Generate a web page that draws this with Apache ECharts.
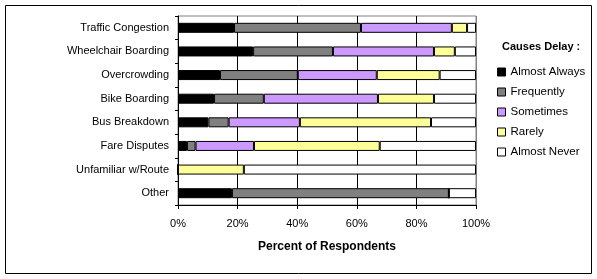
<!DOCTYPE html>
<html>
<head>
<meta charset="utf-8">
<script src="https://cdn.jsdelivr.net/npm/echarts@6/dist/echarts.min.js"></script>
<style>
  html, body { margin: 0; padding: 0; background: #fff; }
  #delay_chart { width: 597px; height: 279px; }
</style>
</head>
<body>
<div id="delay_chart"></div>
<script>
// 延误原因统计 (stacked percent bars)
var causeNames = ['Traffic Congestion', 'Wheelchair Boarding', 'Overcrowding', 'Bike Boarding', 'Bus Breakdown', 'Fare Disputes', 'Unfamiliar w/Route', 'Other']
var almostAlways = [18.8, 25.2, 14.1, 12.1, 10.2, 3.0, 0, 18.1]
var frequently = [42.6, 26.8, 26.1, 16.7, 6.8, 2.9, 0, 72.8]
var sometimes = [30.5, 33.9, 26.5, 38.3, 23.9, 19.6, 0, 0]
var rarely = [5.1, 7.0, 21.1, 18.8, 44.0, 42.2, 22.1, 0]
var almostNever = [3.0, 7.1, 12.2, 14.1, 15.1, 32.3, 77.9, 9.1]
var seriesNames = ['Almost Always', 'Frequently', 'Sometimes', 'Rarely', 'Almost Never']
var seriesColors = ['#000000', '#808080', '#cc99ff', '#ffff99', '#ffffff']
var seriesData = [almostAlways, frequently, sometimes, rarely, almostNever]

var font = 'Arial, "Liberation Sans", sans-serif'
var delay_chart = echarts.init(document.getElementById('delay_chart'))

var series = []
for (let i = 0; i < seriesNames.length; i++) {
  series.push({
    name: seriesNames[i],
    type: 'bar',
    stack: 'total',
    barWidth: 10,
    data: seriesData[i],
    itemStyle: {
      color: seriesColors[i],
      borderColor: '#000',
      borderWidth: 1,
    },
    emphasis: { disabled: true },
  })
}

delay_chart_option = {
  animation: false,
  title: {
    text: 'Causes Delay :',
    left: 502,
    top: 41,
    padding: 0,
    textStyle: {
      fontFamily: font,
      fontSize: 11,
      fontWeight: 'bold',
      color: '#000',
    },
  },
  legend: {
    orient: 'vertical',
    left: 497,
    top: 66,
    padding: 0,
    itemWidth: 8,
    itemHeight: 8,
    itemGap: 8,
    icon: 'rect',
    itemStyle: { borderColor: '#000', borderWidth: 1 },
    textStyle: {
      fontFamily: font,
      fontSize: 11.5,
      color: '#000',
    },
    data: seriesNames,
  },
  grid: {
    left: 178,
    right: 121,
    top: 16,
    bottom: 74,
    show: true,
    borderColor: '#808080',
    borderWidth: 1,
  },
  xAxis: {
    type: 'value',
    min: 0,
    max: 100,
    interval: 20,
    name: 'Percent of Respondents',
    nameLocation: 'middle',
    nameGap: 36,
    nameTextStyle: {
      fontFamily: font,
      fontSize: 12,
      fontWeight: 'bold',
      color: '#000',
    },
    axisLine: { show: true, lineStyle: { color: '#000', width: 1 } },
    axisTick: { show: true, length: 4, lineStyle: { color: '#000' } },
    axisLabel: {
      formatter: '{value}%',
      margin: 13,
      fontFamily: font,
      fontSize: 11,
      color: '#000',
    },
    splitLine: {
      show: true,
      lineStyle: { color: ['#000', '#000', '#000', '#000', '#000', '#808080'], width: 1 },
    },
  },
  yAxis: {
    type: 'category',
    inverse: true,
    data: causeNames,
    axisLine: { show: true, lineStyle: { color: '#000', width: 1 } },
    axisTick: { show: true, length: 3, lineStyle: { color: '#000' } },
    axisLabel: {
      margin: 9,
      fontFamily: font,
      fontSize: 11,
      color: '#000',
    },
    splitLine: { show: false },
  },
  graphic: [
    {
      type: 'rect',
      shape: { x: 5.5, y: 5.5, width: 586, height: 268 },
      style: { fill: 'none', stroke: '#000', lineWidth: 1 },
      silent: true,
    },
  ],
  series: series,
}
delay_chart.setOption(delay_chart_option)
</script>
</body>
</html>
